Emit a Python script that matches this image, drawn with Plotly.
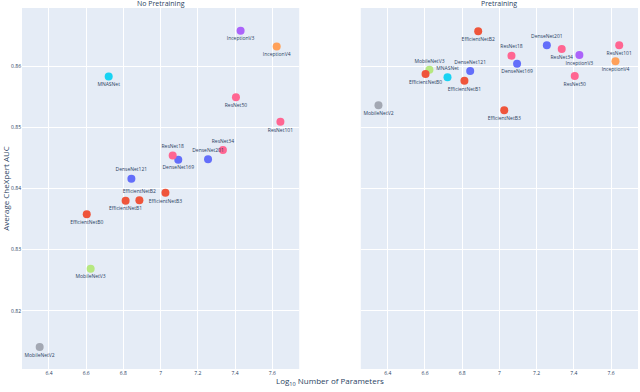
import plotly.graph_objects as go
from plotly.subplots import make_subplots

# model names and their log10 parameter counts / CheXpert AUC
models = ['MobileNetV2', 'MobileNetV3', 'MNASNet', 'EfficientNetB0', 'EfficientNetB1',
          'EfficientNetB2', 'EfficientNetB3', 'DenseNet121', 'DenseNet169', 'DenseNet201',
          'ResNet18', 'ResNet34', 'ResNet50', 'ResNet101', 'InceptionV3', 'InceptionV4']
log_params = [6.35, 6.624, 6.721, 6.603, 6.812, 6.886, 7.026, 6.843, 7.095, 7.255,
              7.065, 7.335, 7.405, 7.644, 7.43, 7.624]
auc_no_pretrain = [0.8141, 0.8269, 0.8583, 0.8358, 0.8380, 0.8381, 0.8393, 0.8416, 0.8447, 0.8448,
                   0.8454, 0.8463, 0.8549, 0.8509, 0.8658, 0.8632]
auc_pretrain = [0.8536, 0.8594, 0.8582, 0.8587, 0.8576, 0.8657, 0.8528, 0.8592, 0.8604, 0.8634,
                0.8617, 0.8628, 0.8584, 0.8634, 0.8618, 0.8608]

colors = {'MobileNetV2': '#a3a8b3', 'MobileNetV3': '#B6E880', 'MNASNet': '#19D3F3',
          'EfficientNet': '#EF553B', 'DenseNet': '#636EFA', 'ResNet': '#FF6692',
          'InceptionV3': '#AB63FA', 'InceptionV4': '#FFA15A'}

def color_of(name):
    for k in colors:
        if name.startswith(k):
            return colors[k]

# label positions (top / bottom) as in the picture
pos_left = {'EfficientNetB2': 'top center', 'DenseNet121': 'top center', 'ResNet18': 'top center',
            'DenseNet201': 'top center', 'ResNet34': 'top center'}
pos_right = {'MobileNetV3': 'top center', 'MNASNet': 'top center', 'DenseNet121': 'top center',
             'ResNet18': 'top center', 'DenseNet201': 'top center'}

fig = make_subplots(rows=1, cols=2, shared_yaxes=True, horizontal_spacing=0.1)

for col, auc, pos in [(1, auc_no_pretrain, pos_left), (2, auc_pretrain, pos_right)]:
    fig.add_trace(go.Scatter(
        x=log_params, y=auc, mode='markers+text', text=models,
        textposition=[pos.get(m, 'bottom center') for m in models],
        textfont=dict(size=5, color='#2a3f5f'),
        marker=dict(size=8, color=[color_of(m) for m in models]),
        cliponaxis=False, showlegend=False), row=1, col=col)

fig.update_xaxes(range=[6.255, 7.745], dtick=0.2, tickfont=dict(size=5), ticks='',
                 automargin=False)
fig.update_yaxes(range=[0.8105, 0.8695], dtick=0.01, tickfont=dict(size=5), automargin=False)
fig.update_yaxes(title=dict(text='Average CheXpert AUC', font=dict(size=8), standoff=2), row=1, col=1)

fig.add_annotation(text='No Pretraining', x=0.225, y=1.012, xref='paper', yref='paper',
                   xanchor='center', yanchor='middle', showarrow=False, font=dict(size=7))
fig.add_annotation(text='Pretraining', x=0.775, y=1.012, xref='paper', yref='paper',
                   xanchor='center', yanchor='middle', showarrow=False, font=dict(size=7))
fig.add_annotation(text='Log<sub>10</sub> Number of Parameters', x=0.5, y=-0.036,
                   xref='paper', yref='paper', xanchor='center', yanchor='middle',
                   showarrow=False, font=dict(size=8))

fig.update_layout(width=640, height=392, margin=dict(l=22, r=2, t=8, b=23),
                  template='plotly', font=dict(color='#2a3f5f'))

# no page margin around the figure
fig.write_html('out.html', config={'displayModeBar': False},
               post_script="document.body.style.margin = '0';")
